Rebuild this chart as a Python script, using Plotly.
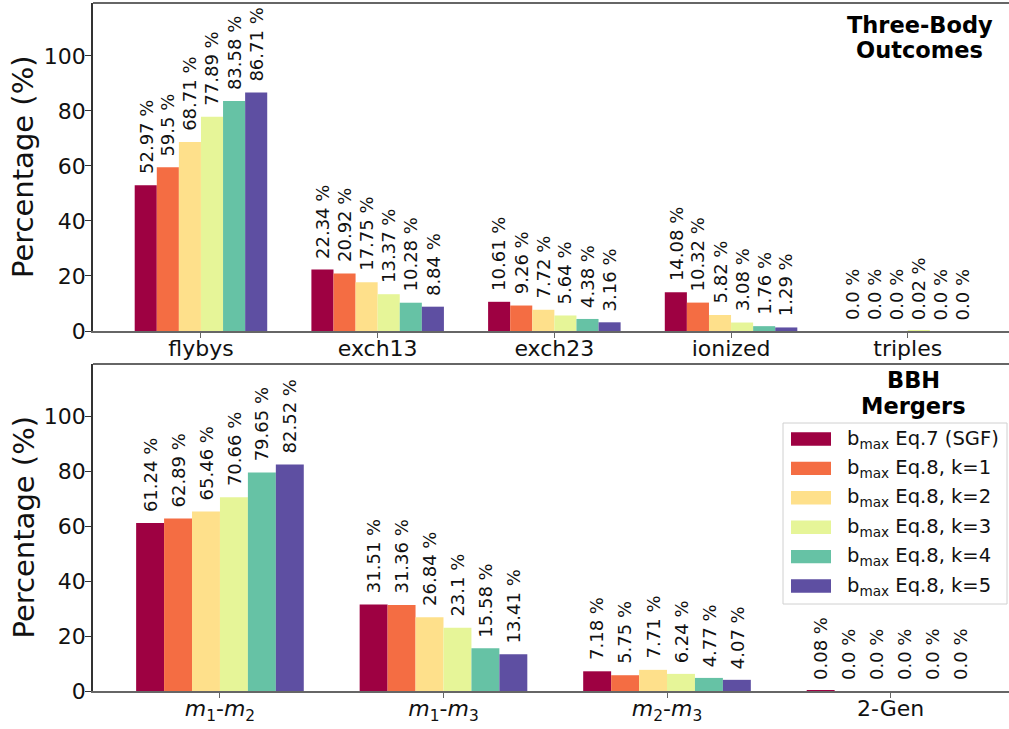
import plotly.graph_objects as go

# ---- data -------------------------------------------------------------
outcome_categories = ["flybys", "exch13", "exch23", "ionized", "triples"]
merger_categories = [
    "<i>m</i><sub>1</sub>-<i>m</i><sub>2</sub>",
    "<i>m</i><sub>1</sub>-<i>m</i><sub>3</sub>",
    "<i>m</i><sub>2</sub>-<i>m</i><sub>3</sub>",
    "2-Gen",
]
y_ticks = [0, 20, 40, 60, 80, 100]

series_names = [
    "b<sub>max</sub> Eq.7 (SGF)",
    "b<sub>max</sub> Eq.8, k=1",
    "b<sub>max</sub> Eq.8, k=2",
    "b<sub>max</sub> Eq.8, k=3",
    "b<sub>max</sub> Eq.8, k=4",
    "b<sub>max</sub> Eq.8, k=5",
]
series_colors = ["#9e0142", "#f46d43", "#fee08b", "#e6f598", "#66c2a5", "#5e4fa2"]

# three-body outcomes (%), one list per b_max prescription
outcomes_sgf = [52.97, 22.34, 10.61, 14.08, 0.0]
outcomes_k1 = [59.5, 20.92, 9.26, 10.32, 0.0]
outcomes_k2 = [68.71, 17.75, 7.72, 5.82, 0.0]
outcomes_k3 = [77.89, 13.37, 5.64, 3.08, 0.02]
outcomes_k4 = [83.58, 10.28, 4.38, 1.76, 0.0]
outcomes_k5 = [86.71, 8.84, 3.16, 1.29, 0.0]

# BBH merger channels (%)
mergers_sgf = [61.24, 31.51, 7.18, 0.08]
mergers_k1 = [62.89, 31.36, 5.75, 0.0]
mergers_k2 = [65.46, 26.84, 7.71, 0.0]
mergers_k3 = [70.66, 23.1, 6.24, 0.0]
mergers_k4 = [79.65, 15.58, 4.77, 0.0]
mergers_k5 = [82.52, 13.41, 4.07, 0.0]

outcome_series = [outcomes_sgf, outcomes_k1, outcomes_k2, outcomes_k3, outcomes_k4, outcomes_k5]
merger_series = [mergers_sgf, mergers_k1, mergers_k2, mergers_k3, mergers_k4, mergers_k5]

# ---- layout constants ---------------------------------------------------
W, H = 1009, 729
FONT = "DejaVu Sans"
BARGAP = 0.25
n_series = len(series_names)
bar_w = (1 - BARGAP) / n_series


def px_x(p):
    return p / W


def px_y(p):
    return 1 - p / H


fig = go.Figure()
annotations = []
shapes = []

panels = [
    ("x", "y", outcome_categories, outcome_series),
    ("x2", "y2", merger_categories, merger_series),
]

for xa, ya, cats, series in panels:
    for j, (name, color, vals) in enumerate(zip(series_names, series_colors, series)):
        xs = list(range(len(cats)))
        fig.add_trace(go.Bar(
            x=xs, y=vals, name=name, marker=dict(color=color, line=dict(width=0)),
            xaxis=xa, yaxis=ya, showlegend=False,
        ))
        # value labels above each bar
        for i, v in enumerate(vals):
            annotations.append(dict(
                x=i + (j - (n_series - 1) / 2) * bar_w, y=v, xref=xa, yref=ya,
                text=f"{v} %", textangle=-90, showarrow=False,
                xanchor="center", yanchor="bottom", yshift=9,
                font=dict(family=FONT, size=18, color="#111"),
            ))
    # y-axis title
    annotations.append(dict(
        x=px_x(23), y=0.5, xref="paper", yref=f"{ya} domain",
        text="Percentage (%)", textangle=-90, showarrow=False,
        xanchor="center", yanchor="middle",
        font=dict(family=FONT, size=29, color="#111"),
    ))
    # top spine
    shapes.append(dict(
        type="line", xref=f"{xa} domain", yref=f"{ya} domain",
        x0=0, x1=1, y0=1, y1=1, line=dict(color="#333", width=1.5),
    ))

# panel titles
for text, cx, cy in [("Three-Body", 920, 25), ("Outcomes", 919, 50),
                     ("BBH", 913, 380), ("Mergers", 913, 405.5)]:
    annotations.append(dict(
        x=px_x(cx), y=px_y(cy), xref="paper", yref="paper",
        text=f"<b>{text}</b>", showarrow=False, xanchor="center", yanchor="middle",
        font=dict(family=FONT, size=22.5, color="#000"),
    ))

# legend box
shapes.append(dict(
    type="rect", xref="paper", yref="paper",
    x0=px_x(783), x1=px_x(1007), y0=px_y(604), y1=px_y(423),
    line=dict(color="#d0d0d0", width=1), fillcolor="rgba(255,255,255,0.8)", layer="above",
))
for k, (name, color) in enumerate(zip(series_names, series_colors)):
    cy = 439 + 29.4 * k
    shapes.append(dict(
        type="rect", xref="paper", yref="paper",
        x0=px_x(791), x1=px_x(831), y0=px_y(cy + 6.7), y1=px_y(cy - 6.7),
        line=dict(width=0), fillcolor=color, layer="above",
    ))
    annotations.append(dict(
        x=px_x(845), y=px_y(cy), xref="paper", yref="paper",
        text=name, showarrow=False, xanchor="left", yanchor="middle",
        font=dict(family=FONT, size=19.5, color="#111"),
    ))

axis_common = dict(showgrid=False, zeroline=False, showline=True, ticks="outside",
                   automargin=False, tickfont=dict(family=FONT, size=22, color="#111"))
x_common = dict(linecolor="#666", linewidth=1.5, tickcolor="#666", ticklen=5, tickwidth=1.2,
                ticklabelstandoff=-8, **axis_common)
y_common = dict(linecolor="#333", linewidth=1.5, tickcolor="#333", ticklen=6, tickwidth=1.2,
                ticklabelstandoff=-5, range=[0, 119.2], tickvals=y_ticks, **axis_common)

fig.update_layout(
    width=W, height=H,
    margin=dict(l=0, r=0, t=0, b=0, autoexpand=False),
    paper_bgcolor="white", plot_bgcolor="white",
    barmode="group", bargap=BARGAP, bargroupgap=0,
    font=dict(family=FONT, color="#111"),
    showlegend=False,
    xaxis=dict(domain=[px_x(93), 1], anchor="y", range=[-0.611, 4.573],
               tickvals=list(range(len(outcome_categories))), ticktext=outcome_categories,
               **x_common),
    yaxis=dict(domain=[px_y(331), px_y(3)], anchor="x", **y_common),
    xaxis2=dict(domain=[px_x(93), 1], anchor="y2", range=[-0.568, 3.53],
                tickvals=list(range(len(merger_categories))), ticktext=merger_categories,
                **x_common),
    yaxis2=dict(domain=[px_y(691), px_y(364)], anchor="x2", **y_common),
    annotations=annotations,
    shapes=shapes,
)

fig.write_html("out.html")
